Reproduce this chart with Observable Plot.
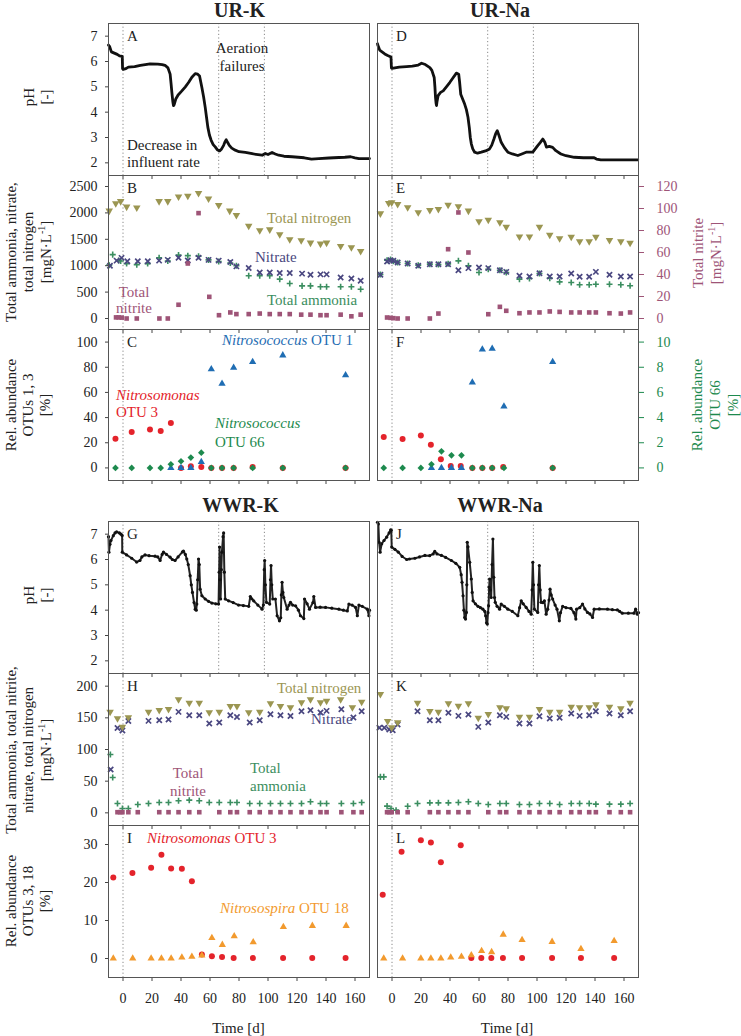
<!DOCTYPE html>
<html><head><meta charset="utf-8">
<script src="https://cdn.jsdelivr.net/npm/d3@7"></script>
<script src="https://cdn.jsdelivr.net/npm/@observablehq/plot@0.6"></script>
<style>
body{margin:0;background:#fff;}
#chart{position:relative;width:741px;height:1036px;overflow:hidden;}
#chart svg{position:absolute;overflow:visible;max-width:none;}
#chart svg, #chart text, #chart tspan{font-family:"Liberation Serif","Times New Roman",Times,serif !important;}
</style></head><body><div id="chart"></div>
<script>
// ---------- DATA ----------
const xTicks = [0,20,40,60,80,100,120,140,160];
const columns = ["UR-K","UR-Na","WWR-K","WWR-Na"];
// pH time series [day, pH]
const pH_URK = [[-10,6.65],[-9.3,6.6],[-8,6.38],[-6,6.33],[-4,6.28],[-2.4,6.22],[-0.5,6.2],[-0.3,5.72],[0,5.69],[2,5.72],[3.7,5.78],[8,5.8],[12,5.85],[18.7,5.91],[24,5.9],[27,5.88],[29,5.85],[31,5.75],[32.5,5.5],[33.2,5.1],[33.7,4.78],[34.4,4.4],[34.8,4.26],[35.3,4.3],[36.4,4.52],[38,4.68],[40.6,4.84],[43,5.0],[45.2,5.17],[47.5,5.38],[49.8,5.52],[51.5,5.5],[52.8,5.43],[53.6,5.2],[54.4,4.97],[55.6,4.6],[56.7,4.19],[57.6,3.8],[58.5,3.41],[59.6,3.1],[60.8,2.89],[62.2,2.72],[63.6,2.63],[65,2.52],[66.6,2.47],[68,2.55],[69.4,2.69],[70.3,2.82],[71.2,2.91],[72.2,2.8],[73.3,2.69],[75,2.58],[77.4,2.5],[80,2.44],[84.4,2.41],[90,2.35],[95.9,2.3],[98.2,2.37],[100,2.33],[102.8,2.41],[105,2.35],[107.4,2.3],[111,2.26],[116.6,2.24],[125,2.2],[130,2.15],[135,2.17],[142,2.19],[148.9,2.21],[153,2.22],[157,2.24],[160,2.2],[162.7,2.17],[170,2.17]];
const pH_URNa = [[-10,6.7],[-9.8,6.65],[-8.5,6.45],[-7.1,6.39],[-5,6.3],[-3,6.24],[-0.7,6.18],[-0.4,5.75],[0,5.73],[5,5.78],[10,5.8],[14,5.82],[18.1,5.86],[20.4,5.93],[23,5.88],[26.1,5.76],[27.5,5.65],[29.1,5.37],[29.6,5.0],[30,4.58],[30.4,4.35],[30.7,4.26],[31,4.4],[31.8,4.65],[33.5,4.78],[35.3,4.84],[37.5,5.0],[39.8,5.17],[42,5.35],[44.4,5.54],[46,5.5],[46.6,5.2],[47.4,4.71],[48.5,4.55],[50.1,4.32],[51.3,4.1],[52.4,3.8],[53.3,3.4],[54,3.0],[54.7,2.75],[55.7,2.55],[57,2.42],[59,2.38],[61.6,2.42],[64.5,2.47],[67.3,2.55],[68.8,2.7],[70.3,2.94],[71.5,3.15],[72.6,3.27],[73.8,3.08],[75.3,2.81],[77.5,2.6],[79.9,2.42],[83,2.35],[86.8,2.29],[89.5,2.35],[92.5,2.42],[95,2.42],[97.1,2.42],[98.8,2.55],[100.5,2.68],[102.2,2.8],[104,2.94],[105.5,2.8],[106.5,2.62],[108.5,2.65],[110.8,2.61],[113,2.48],[116.5,2.35],[120,2.28],[125.7,2.22],[132,2.2],[139.4,2.2],[141,2.15],[144,2.12],[155,2.12],[169.5,2.12]];
const pH_WWRK = [[-10,6.9],[-9.7,6.29],[-9,6.6],[-8.3,6.75],[-6.7,6.94],[-5.5,7.05],[-4.4,7.09],[-2.5,7.05],[-1.4,7.0],[-0.6,6.95],[-0.5,6.29],[2.5,6.18],[6,6.05],[9.4,5.9],[11.7,5.96],[13,6.1],[15.2,6.18],[18,6.15],[22.1,6.13],[24,6.1],[25.6,5.96],[27,6.2],[27.9,6.29],[30,6.2],[32.5,6.09],[34,6.0],[35.9,5.96],[38,6.1],[41,6.3],[41.7,6.33],[43,6.2],[44,6.02],[45,5.8],[46.3,5.36],[47.1,5.0],[47.9,4.7],[49,4.3],[49.8,4.04],[50.5,4.0],[50.9,4.24],[51.5,5.2],[52.1,6.02],[52.6,5.8],[53.2,4.83],[54.4,4.57],[56.7,4.44],[59,4.35],[61.3,4.28],[64,4.25],[65.9,4.24],[66.3,5.5],[66.6,6.49],[67,5.2],[67.3,4.44],[67.8,5.6],[68.2,6.29],[69,6.9],[69.4,7.05],[69.9,5.5],[70.5,4.44],[72.8,4.37],[76,4.3],[79.7,4.2],[83,4.18],[86.7,4.15],[87.8,4.54],[88.8,4.45],[90.1,4.37],[93,4.2],[95.9,4.04],[96.8,4.2],[97.4,5.6],[97.7,5.96],[98.2,5.0],[98.9,4.31],[101.2,4.24],[101.7,5.2],[102.1,5.76],[102.6,5.0],[103.3,4.44],[105.1,4.44],[106.3,3.78],[107.9,3.58],[108.8,3.7],[109.2,4.6],[109.7,5.1],[110.3,4.7],[110.9,4.5],[113.2,4.04],[114.5,4.2],[115.5,4.31],[117,4.2],[119,4.17],[121,4.0],[122.4,3.78],[124.7,3.67],[125.2,4.44],[127,4.25],[128.6,4.04],[131,4.3],[131.6,4.54],[132.8,4.11],[136,4.12],[139.7,4.11],[144,4.08],[148.9,4.04],[152,4.0],[154.7,3.97],[155.8,4.24],[158,4.2],[160.4,4.11],[161.6,3.78],[162.7,4.2],[165,4.15],[168.5,4.04],[169.6,3.78],[170,4.0]];
const pH_WWRNa = [[-10,7.47],[-9.4,7.4],[-8.9,6.68],[-8.2,6.29],[-7.1,6.62],[-5.5,6.75],[-3.7,6.88],[-2,7.05],[-0.9,7.17],[-0.5,7.15],[-0.2,6.49],[2,6.4],[4.4,6.29],[7,6.12],[10.1,6.0],[12,6.02],[15.8,6.05],[19,6.1],[22.7,6.16],[26,6.15],[28.4,6.22],[29.5,6.32],[31,6.22],[34.1,6.16],[37,6.08],[41,5.96],[44,5.85],[46.7,5.69],[47.7,5.4],[48.3,5.1],[49,4.57],[49.6,4.0],[50.1,3.71],[50.7,3.65],[51.3,3.91],[51.6,5.0],[51.9,6.68],[52.4,6.5],[53.6,5.89],[54.7,5.23],[55.3,4.7],[55.9,4.37],[57.5,4.25],[59.3,4.15],[61,4.1],[62.7,4.04],[64,3.95],[64.6,3.78],[65.2,3.5],[65.7,3.45],[66.2,3.9],[66.6,4.17],[67,4.9],[67.3,5.23],[67.9,4.8],[68.4,4.5],[69,5.8],[69.6,6.81],[70.2,5.3],[70.7,4.5],[71.2,4.31],[72.5,4.15],[74.2,4.04],[75.3,4.24],[77.5,4.15],[79.9,4.04],[83,3.95],[86.8,3.78],[88,4.1],[89.1,4.37],[90.5,4.25],[92.5,4.11],[94.5,3.95],[96,3.84],[96.6,4.8],[97.1,5.89],[97.6,5.0],[98.2,4.04],[100.5,3.91],[101.1,5.0],[101.6,5.76],[102.2,4.8],[102.8,4.31],[104,4.3],[105.1,4.37],[106.3,3.84],[107.4,4.04],[108.3,4.4],[109,4.83],[109.8,4.6],[110.8,4.44],[112.5,4.2],[113.8,4.04],[115.4,3.58],[116.2,3.9],[117.7,4.15],[120,4.1],[123.4,4.07],[125.5,3.9],[126.8,3.65],[127.3,4.04],[129.5,4.1],[131.4,4.24],[133,4.05],[134.8,3.91],[136.5,3.85],[138.3,3.71],[139.4,4.04],[143,4.05],[148.6,4.04],[152,4.02],[155.4,4.01],[157,3.95],[158.8,3.88],[163,3.88],[166.9,3.88],[168,4.04],[169.2,3.84],[170,3.9]];

// Nitrogen species [day, mgN/L]
const TN_URK = [[-9.5,2040],[-5,2180],[-1.6,2220],[2.5,2116],[9.5,2100],[24.9,2220],[30.9,2220],[38.3,2307],[44.7,2320],[52.1,2372],[59,2270],[66,2148],[73.6,2040],[78.2,1957],[86.7,1752],[94.3,1670],[101.2,1685],[108.1,1593],[115,1498],[122.9,1480],[129.3,1434],[136.2,1415],[140.4,1434],[150.1,1370],[157.5,1345],[163.9,1274]];
const NO3_URK = [[-9,1000],[-4.4,1096],[-1,1148],[3,1085],[10.2,1085],[17.1,1085],[24.9,1096],[30.9,1110],[38.3,1150],[44.7,1100],[52.1,1150],[59,1110],[66,1096],[74,1070],[78.2,987],[86.7,956],[94.3,872],[101.2,872],[108.1,860],[115,860],[123.5,850],[129.3,830],[136.2,836],[140.4,836],[150.1,777],[157.5,757],[163.9,714]];
const NH4_URK = [[-9.5,1010],[-7.1,1210],[-3,1100],[-1.6,1090],[2.5,1040],[9.5,1020],[17,1040],[24.9,1150],[30.9,1090],[38.3,1200],[44.7,1190],[52.1,1180],[59,1110],[66,1080],[74,1050],[78.2,1000],[86.7,809],[94.3,809],[101.2,809],[108.1,746],[115,662],[123.5,618],[129.3,618],[136.2,600],[140.4,600],[150.1,600],[157.5,600],[163.9,555]];
const NO2_URK = [[-4.8,1],[-3,1],[-0.9,0.8],[2.5,0],[9.5,0],[25.1,0],[30.9,0],[38.3,12.5],[44.7,50],[52.1,95.8],[59.5,19.7],[66.2,3],[74,5.5],[78.2,4],[86.7,4],[94.3,4.5],[101.2,4],[108.1,4],[115,4],[122.9,3.5],[129.3,3.5],[136.2,3],[140.4,3],[150.1,3.5],[157.5,2],[163.9,3.5]];

const TN_URNa = [[-8,1988],[-2.3,2183],[-0.2,2196],[3.9,2165],[10.8,2102],[18.1,2008],[26.1,2052],[32,2071],[38.7,2152],[45.8,2121],[52.7,2040],[60,1838],[66.4,1869],[74.4,1819],[78.8,1735],[87.9,1552],[94.8,1552],[101.7,1735],[108.8,1583],[115.6,1515],[123.6,1546],[129.4,1458],[136,1458],[140.6,1546],[150,1483],[157.8,1458],[164.2,1433]];
const NO3_URNa = [[-8,827],[-3.4,1079],[-1,1104],[0.9,1092],[3.9,1060],[10.8,1042],[18.1,998],[26.1,1029],[32,1029],[38.7,1029],[45.8,915],[52.7,954],[60,967],[66.4,954],[74.4,915],[78.8,883],[87.9,808],[94.8,796],[101.7,858],[108.8,796],[115.6,796],[123.6,852],[129.4,790],[136,790],[140.6,883],[150,827],[157.8,796],[164.2,796]];
const NH4_URNa = [[-8,833],[-3.4,1104],[-1,1117],[0.9,1083],[3.9,1060],[10.8,1042],[18.1,1010],[26.1,1029],[32,1021],[38.7,1035],[45.8,1092],[52.7,998],[60,871],[66.4,933],[74.4,915],[78.8,871],[87.9,746],[94.8,758],[101.7,852],[108.8,765],[115.6,694],[123.6,681],[129.4,638],[136,638],[140.6,650],[150,650],[157.8,638],[164.2,619]];
const NO2_URNa = [[-3.4,0.9],[-1,0.6],[0.9,0.3],[3.9,0],[10.8,0],[26.1,0],[32,4.5],[38.7,63],[45.8,96.4],[52.7,60],[66.4,3.9],[74.4,10.6],[78.8,7],[87.9,4.8],[94.8,5.5],[101.7,5.5],[108.8,6.4],[115.6,6],[123.6,5.5],[129.4,5.5],[136,5.5],[140.6,5.5],[150,4.8],[157.8,4.5],[164.2,5.5]];

const TN_WWRK = [[-8.9,159.4],[-3.8,149],[-0.4,135.8],[3.7,150.5],[17.6,159.4],[25,162],[31.4,163.6],[38.3,179],[45.7,173.7],[52.6,173.7],[59.5,158.4],[66.4,159.4],[74,168.4],[78.6,168.4],[86.7,158.4],[94.3,159.4],[101.7,172.6],[108.6,168.4],[115.5,166.3],[123.1,174.2],[129.3,179],[136.2,174.2],[140.4,176.8],[150.1,179],[158.2,166.3],[164.6,175.3]];
const NO3_WWRK = [[-8.5,68.5],[-3.8,134],[-0.4,130],[3.7,145],[17.6,145.2],[25,146.3],[31.4,147.3],[38.3,159.4],[45.7,154.1],[52.6,154.1],[59.5,141],[66.4,142.5],[74,154.1],[78.6,151.4],[87.4,142.5],[94.3,146.3],[101.7,155.6],[108.6,154.1],[115.5,153],[123.1,160.4],[129.3,162],[136.2,158.4],[140.4,161],[150.6,163.6],[158.9,150.5],[164.6,160.4]];
const NH4_WWRK = [[-8.7,92.2],[-7.1,55.8],[-3.8,14.8],[-0.4,6.8],[3.7,6.8],[10.2,13.2],[17.6,14.7],[25,16.3],[31.4,16.3],[38.3,19],[45.7,20],[52.6,19],[59.5,16.3],[66.4,16.3],[74,16.3],[78.6,16.3],[87.4,14.7],[94.3,14.7],[101.7,14.7],[108.6,14.7],[115.5,14.7],[123.1,14.7],[129.3,17.4],[136.2,14.7],[140.4,14.7],[150.6,14.7],[158.9,14.7],[164.6,16.3]];
const NO2_WWRK = [[-3.8,1],[-2,1],[-0.4,1],[3.7,1],[10.2,1],[25,1],[31.4,1],[38.3,1],[45.7,1],[52.6,1],[66.4,1],[74,1],[78.6,1],[87.4,1],[94.3,1],[101.7,1],[108.6,1],[115.5,1],[123.1,1],[129.3,1],[136.2,1],[140.4,1],[150.6,1],[158.9,1],[164.6,1]];

const TN_WWRNa = [[-8,187.4],[-3,144.7],[-0.2,134.7],[3.9,142.6],[17.6,173.7],[26.1,160.4],[32,159.4],[38.9,172.6],[45.8,168.9],[52.7,172.6],[59.5,150],[66.4,155.8],[74.4,166.3],[78.8,164.7],[87.9,151.5],[94.8,151.5],[101.7,163.6],[108.8,159.4],[115.6,159.4],[123.6,167.4],[129.4,166.3],[136,166.3],[140.6,171],[150,167.4],[157.8,164.7],[164.2,173.7]];
const NO3_WWRNa = [[-8.7,134.2],[-5.3,134.2],[-1.9,131.5],[0.5,130.4],[3.9,139.4],[17.6,160.4],[26.1,146.3],[32,146.3],[38.9,157.9],[45.8,153.1],[52.7,155.2],[59.5,135.7],[66.4,142.6],[74.4,154.1],[78.8,151.5],[87.9,141],[94.8,141],[101.7,152.5],[108.8,148.8],[115.6,150],[123.6,156.8],[129.4,153.1],[136,154.1],[140.6,160.4],[150,156.8],[157.8,154.1],[164.2,160.4]];
const NH4_WWRNa = [[-8,56.8],[-5.7,56.8],[-3.4,10.6],[-0.7,6.8],[2.8,4.2],[10.8,10.5],[17.6,14.7],[26.1,15.8],[32,15.8],[38.9,15.8],[45.8,16.3],[52.7,17.4],[59.5,14.7],[66.4,13.2],[74.4,14.7],[78.8,14.7],[87.9,13.2],[94.8,13.2],[101.7,14.7],[108.8,14.7],[115.6,13.2],[123.6,14.7],[129.4,14.7],[136,14.7],[140.6,13.7],[150,13.7],[157.8,13.7],[164.2,14.7]];
const NO2_WWRNa = [[-3.4,1],[-1.9,1],[-0.2,1],[3.9,1],[10.8,1],[26.1,1],[32,1],[38.9,1],[45.8,1],[52.7,1],[66.4,1],[74.4,1],[78.8,1],[87.9,1],[94.8,1],[101.7,1],[108.8,1],[115.6,1],[123.6,1],[129.4,1],[136,1],[140.6,1],[150,1],[157.8,1],[164.2,1]];

// Relative abundances [day, %]
const OTU3_URK = [[-5.2,23.2],[6,28.5],[18.6,30.6],[26,29.3],[33,35.6],[40,0],[46.8,1.3],[54,0.8],[60.9,0],[68.3,0],[76.3,0],[89.4,0.8],[110.2,0],[153.5,0]];
const OTU1_URK = [[33,0],[40,0],[46.8,0],[54,4.7],[60.9,78.4],[68.3,67],[76.3,79.7],[89.4,84.2],[110.2,89.5],[153.5,73.7]];
const OTU66_URK = [[-5.2,0],[6,0],[18.6,0],[26,0],[33,0.29],[40,0.53],[46.8,0.82],[54,1.21],[60.9,0],[68.3,0],[76.3,0],[89.4,0],[110.2,0],[153.5,0]];
const OTU3_URNa = [[-5.7,24.5],[7.3,23],[19.9,25.8],[26.8,18.4],[33.7,6.8],[40.5,1.6],[47.4,1.6],[55.4,0],[62.3,0],[69.1,0],[76.7,0.8],[110.8,0]];
const OTU1_URNa = [[27.2,0],[34.1,0],[41,0],[47.9,0],[55.4,67.9],[62.3,94.2],[69.1,94.7],[77.2,48.9],[110.8,84.2]];
const OTU66_URNa = [[-5.7,0],[7.3,0],[19.9,0],[27.2,0.29],[34.1,1.32],[41,1.0],[47.9,1.0],[55.4,0],[62.3,0],[69.1,0],[77.2,0],[110.8,0]];
const OTU3_WWRK = [[-6.7,21.3],[6.5,22.5],[19.4,23.9],[26.5,27.3],[33.2,23.7],[40.6,23.6],[47.5,20.3],[54.4,1.05],[61.3,0.6],[68.3,0.4],[76.3,0.1],[89.6,0.1],[110.4,0.1],[130.5,0.1],[153.5,0.1]];
const OTU18_WWRK = [[-6.7,0],[6.7,0],[19.4,0],[26.5,0],[33.2,0],[40.6,0.3],[47.5,0.5],[54.4,0.8],[61.3,5.4],[68.5,3.6],[76.7,5.9],[89.8,4.3],[110.6,8.3],[130.6,8.6],[153.9,8.6]];
const OTU3_WWRNa = [[-6.4,16.8],[6.6,28.1],[19.9,31.1],[26.8,30.5],[33.7,25.3],[47.4,29.8],[54.7,0.1],[61.6,0.1],[68.5,0.1],[76.5,0.1],[89.7,0.1],[110.4,0.1],[130.3,0.1],[153.2,0.1]];
const OTU18_WWRNa = [[-5.7,0],[7.3,0],[19.9,0],[26.8,0],[33.7,0],[40.5,0.3],[47.9,0.5],[54.7,0.9],[61.8,2],[68.7,1.7],[76.7,6.3],[89.7,4.9],[110.4,4.4],[130.3,2.5],[153.2,4.6]];

const eventDays = [0, 66, 97.5];

// ---------- STYLE / LAYOUT ----------
const COL = {tn:"#9b9652", no3:"#4a4780", nh4:"#3b8e60", no2:"#9e5477", otu1:"#1f6db3", otu3:"#e4232b", otu66:"#1d8a4e", otu18:"#f29a2e", txt:"#222"};
const FONT = "Liberation Serif, Times New Roman, serif";
const W = 261, ML = 50, MR = 50, MT = 4, MB = 34;
const chart = document.getElementById("chart");
const triDown = {draw(ctx, size) {
  const y = -Math.sqrt(size / (Math.sqrt(3) * 3));
  ctx.moveTo(0, -y * 2); ctx.lineTo(-Math.sqrt(3) * y, y); ctx.lineTo(Math.sqrt(3) * y, y); ctx.closePath();
}};
const X = d => d[0], Y = d => d[1];
const fmt = d => String(d);

function panel(x0, y0, h, ydomain, marks) {
  const svg = Plot.plot({
    width: W + ML + MR, height: h + MT + MB,
    marginLeft: ML, marginRight: MR, marginTop: MT, marginBottom: MB,
    x: {domain: [-10, 170], axis: null},
    y: {domain: ydomain, axis: null},
    style: {fontFamily: FONT, fontSize: "14px", background: "transparent", overflow: "visible", color: COL.txt},
    marks
  });
  svg.style.left = (x0 - ML) + "px";
  svg.style.top = (y0 - MT) + "px";
  chart.appendChild(svg);
}
const xAxis = (labels) => Plot.axisX({ticks: xTicks, tickSize: 4, tickPadding: 12, tickFormat: labels ? fmt : (() => ""), label: null, stroke: "#444"});
const yAxisL = (ticks) => Plot.axisY({ticks, tickSize: 3, tickPadding: 8, tickFormat: fmt, label: null, stroke: "#444"});
const yAxisR = (ticks, color) => Plot.axisY({anchor: "right", ticks, tickSize: 5, tickPadding: 13, tickFormat: fmt, label: null, color});
const frame = () => Plot.frame({stroke: "#555", strokeWidth: 1});
const dotted = (days) => Plot.ruleX(days, {stroke: "#888", strokeWidth: 1, strokeDasharray: "1.2,2.4"});

const colX = [108, 377];
const rowsTop = {pH: 23, N: 175, A: 329, pH2: 521, N2: 673, A2: 825};
const rowH = {pH: 152, N: 154, A: 151, pH2: 152, N2: 152, A2: 152};

function pHMarks(data, thick) {
  return thick
    ? [Plot.line(data, {x: X, y: Y, stroke: "#111", strokeWidth: 2.8})]
    : [Plot.line(data, {x: X, y: Y, stroke: "#222", strokeWidth: 2}),
       Plot.dot(data, {x: X, y: Y, r: 1.6, fill: "#111"})];
}
function nMarks(tn, no3, nh4) {
  return [
    Plot.dot(nh4, {x: X, y: Y, symbol: "plus", r: 2.1, stroke: COL.nh4, strokeWidth: 1.6}),
    Plot.dot(no3, {x: X, y: Y, symbol: "times", r: 2.5, stroke: COL.no3, strokeWidth: 1.7}),
    Plot.dot(tn, {x: X, y: Y, symbol: triDown, r: 2.8, fill: COL.tn, stroke: "none"})
  ];
}
const sq = (data) => Plot.dot(data, {x: X, y: Y, symbol: "square", r: 2.6, fill: COL.no2, stroke: "none"});
const circ = (data) => Plot.dot(data, {x: X, y: Y, symbol: "circle", r: 3, fill: COL.otu3, stroke: "none"});
const tri = (data, c) => Plot.dot(data, {x: X, y: Y, symbol: "triangle", r: 2.7, fill: c, stroke: "none"});
const dia = (data) => Plot.dot(data, {x: X, y: Y, symbol: "diamond2", r: 3, fill: COL.otu66, stroke: "none"});

const pHTicks = [2,3,4,5,6,7];
const nTicksUR = [0,500,1000,1500,2000,2500];
const nTicksWWR = [0,50,100,150,200];
const aTicksUR = [0,20,40,60,80,100];
const aTicksWWR = [0,10,20,30];
const no2Ticks = [0,20,40,60,80,100,120];
const otu66Ticks = [0,2,4,6,8,10];

// ---- UR-K (left, top) ----
panel(colX[0], rowsTop.pH, rowH.pH, [1.5, 7.5], [dotted(eventDays), ...pHMarks(pH_URK, true), yAxisL(pHTicks), xAxis(false), frame()]);
panel(colX[0], rowsTop.N, rowH.N, [-208.33, 2708.33], [dotted([0]), ...nMarks(TN_URK, NO3_URK, NH4_URK), yAxisL(nTicksUR), xAxis(false), frame()]);
panel(colX[0], rowsTop.N, rowH.N, [-10, 130], [sq(NO2_URK)]);
panel(colX[0], rowsTop.A, rowH.A, [-10, 110], [dotted([0]), circ(OTU3_URK), tri(OTU1_URK, COL.otu1), yAxisL(aTicksUR), xAxis(false), frame()]);
panel(colX[0], rowsTop.A, rowH.A, [-1, 11], [dia(OTU66_URK)]);
// ---- UR-Na (right, top) ----
panel(colX[1], rowsTop.pH, rowH.pH, [1.5, 7.5], [dotted(eventDays), ...pHMarks(pH_URNa, true), xAxis(false), frame()]);
panel(colX[1], rowsTop.N, rowH.N, [-208.33, 2708.33], [dotted([0]), ...nMarks(TN_URNa, NO3_URNa, NH4_URNa), xAxis(false), frame()]);
panel(colX[1], rowsTop.N, rowH.N, [-10, 130], [sq(NO2_URNa), yAxisR(no2Ticks, COL.no2)]);
panel(colX[1], rowsTop.A, rowH.A, [-10, 110], [dotted([0]), circ(OTU3_URNa), tri(OTU1_URNa, COL.otu1), xAxis(false), frame()]);
panel(colX[1], rowsTop.A, rowH.A, [-1, 11], [dia(OTU66_URNa), yAxisR(otu66Ticks, COL.otu66)]);
// ---- WWR-K ----
panel(colX[0], rowsTop.pH2, rowH.pH2, [1.5, 7.5], [dotted(eventDays), ...pHMarks(pH_WWRK, false), yAxisL(pHTicks), xAxis(false), frame()]);
panel(colX[0], rowsTop.N2, rowH.N2, [-20, 220], [dotted([0]), ...nMarks(TN_WWRK, NO3_WWRK, NH4_WWRK), sq(NO2_WWRK), yAxisL(nTicksWWR), xAxis(false), frame()]);
panel(colX[0], rowsTop.A2, rowH.A2, [-5, 35], [dotted([0]), circ(OTU3_WWRK), tri(OTU18_WWRK, COL.otu18), yAxisL(aTicksWWR), xAxis(true), frame()]);
// ---- WWR-Na ----
panel(colX[1], rowsTop.pH2, rowH.pH2, [1.5, 7.5], [dotted(eventDays), ...pHMarks(pH_WWRNa, false), xAxis(false), frame()]);
panel(colX[1], rowsTop.N2, rowH.N2, [-20, 220], [dotted([0]), ...nMarks(TN_WWRNa, NO3_WWRNa, NH4_WWRNa), sq(NO2_WWRNa), xAxis(false), frame()]);
panel(colX[1], rowsTop.A2, rowH.A2, [-5, 35], [dotted([0]), circ(OTU3_WWRNa), tri(OTU18_WWRNa, COL.otu18), xAxis(true), frame()]);

// ---------- TEXT OVERLAY ----------
const ov = d3.select(chart).append("svg").attr("width", 741).attr("height", 1036)
  .style("left", "0px").style("top", "0px").style("pointer-events", "none").attr("font-family", FONT);
function T(x, y, content, o = {}) {
  const t = ov.append("text").attr("font-size", o.size || 15).attr("fill", o.color || COL.txt)
    .attr("text-anchor", o.anchor || "start");
  if (o.bold) t.attr("font-weight", "bold");
  if (o.rot) t.attr("transform", `translate(${x},${y}) rotate(-90)`).attr("dy", "0.35em");
  else t.attr("x", x).attr("y", y);
  for (const p of (Array.isArray(content) ? content : [content])) {
    const s = t.append("tspan");
    if (typeof p === "string") s.text(p);
    else { s.text(p.t); if (p.it) s.attr("font-style", "italic"); if (p.dy) s.attr("dy", p.dy); if (p.size) s.attr("font-size", p.size); }
  }
}
const unit = ["[mgN·L", {t: "-1", dy: -6, size: 10}, {t: "]", dy: 6}];

// column titles
T(239.5, 17, columns[0], {anchor: "middle", size: 20, bold: true});
T(500, 17, columns[1], {anchor: "middle", size: 20, bold: true});
T(240.5, 512, columns[2], {anchor: "middle", size: 20, bold: true});
T(500, 512, columns[3], {anchor: "middle", size: 20, bold: true});

// panel letters
const letters = [["A",0,23],["B",0,175],["C",0,329],["D",1,23],["E",1,175],["F",1,329],["G",0,521],["H",0,673],["I",0,825],["J",1,521],["K",1,673],["L",1,825]];
for (const [l, c, top] of letters) T(colX[c] + 19, top + 18, l);

// left axis titles
T(29, 97, "pH", {anchor: "middle", rot: true}); T(46, 97, "[-]", {anchor: "middle", rot: true});
T(11, 252, "Total ammonia, nitrate,", {anchor: "middle", rot: true});
T(28, 252, "total nitrogen", {anchor: "middle", rot: true});
T(46, 252, unit, {anchor: "middle", rot: true});
T(11, 405, "Rel. abundance", {anchor: "middle", rot: true});
T(28, 405, "OTUs 1, 3", {anchor: "middle", rot: true});
T(45, 405, "[%]", {anchor: "middle", rot: true});
T(29, 595, "pH", {anchor: "middle", rot: true}); T(46, 595, "[-]", {anchor: "middle", rot: true});
T(11, 750, "Total ammonia, total nitrite,", {anchor: "middle", rot: true});
T(28, 750, "nitrate, total nitrogen", {anchor: "middle", rot: true});
T(46, 750, unit, {anchor: "middle", rot: true});
T(11, 901, "Rel. abundance", {anchor: "middle", rot: true});
T(28, 901, "OTUs 3, 18", {anchor: "middle", rot: true});
T(45, 901, "[%]", {anchor: "middle", rot: true});
// right axis titles
T(698, 253, "Total nitrite", {anchor: "middle", rot: true, color: COL.no2});
T(716, 253, unit, {anchor: "middle", rot: true, color: COL.no2});
T(697, 405, "Rel. abundance", {anchor: "middle", rot: true, color: COL.otu66});
T(715, 405, "OTU 66", {anchor: "middle", rot: true, color: COL.otu66});
T(733, 405, "[%]", {anchor: "middle", rot: true, color: COL.otu66});

// x axis titles
T(238.5, 1033, "Time [d]", {anchor: "middle"});
T(507, 1033, "Time [d]", {anchor: "middle"});

// panel A annotations
T(242, 53, "Aeration", {anchor: "middle"});
T(242, 71, "failures", {anchor: "middle"});
T(127, 150, "Decrease in");
T(127, 167, "influent rate");
// panel B annotations
T(267, 223, "Total nitrogen", {color: COL.tn});
T(255, 262, "Nitrate", {color: COL.no3});
T(134, 297, "Total", {anchor: "middle", color: COL.no2});
T(134, 313, "nitrite", {anchor: "middle", color: COL.no2});
T(267, 305, "Total ammonia", {color: COL.nh4});
// panel C annotations
T(222, 345, [{t: "Nitrosococcus", it: true}, " OTU 1"], {color: COL.otu1});
T(116, 400, [{t: "Nitrosomonas", it: true}], {color: COL.otu3});
T(116, 417, "OTU 3", {color: COL.otu3});
T(215, 428, [{t: "Nitrosococcus", it: true}], {color: COL.otu66});
T(215, 447, "OTU 66", {color: COL.otu66});
// panel H annotations
T(277, 693, "Total nitrogen", {color: COL.tn});
T(311, 724, "Nitrate", {color: COL.no3});
T(188, 778, "Total", {anchor: "middle", color: COL.no2});
T(188, 796, "nitrite", {anchor: "middle", color: COL.no2});
T(250, 773, "Total", {color: COL.nh4});
T(250, 791, "ammonia", {color: COL.nh4});
// panel I annotations
T(147, 843, [{t: "Nitrosomonas", it: true}, " OTU 3"], {color: COL.otu3});
T(220, 913, [{t: "Nitrosospira", it: true}, " OTU 18"], {color: COL.otu18});
</script></body></html>
